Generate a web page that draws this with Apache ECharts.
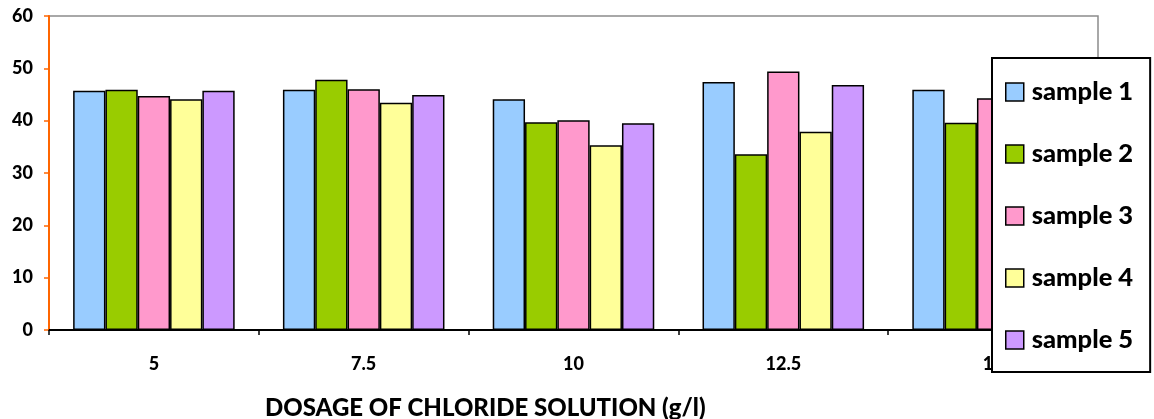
<!DOCTYPE html>
<html>
<head>
<meta charset="utf-8">
<script src="https://cdn.jsdelivr.net/npm/echarts@6/dist/echarts.min.js"></script>
<style>
html,body{margin:0;padding:0;background:#fff;}
#chart{width:1154px;height:419px;}
</style>
</head>
<body>
<div id="chart"></div>
<script>
var categories = ['5', '7.5', '10', '12.5', '15'];
var seriesNames = ['sample 1', 'sample 2', 'sample 3', 'sample 4', 'sample 5'];
var sample1 = [45.7, 45.9, 44.1, 47.4, 45.9];
var sample2 = [45.9, 47.8, 39.7, 33.6, 39.6];
var sample3 = [44.7, 46.0, 40.1, 49.4, 44.3];
var sample4 = [44.1, 43.4, 35.3, 37.9, 40.0];
var sample5 = [45.7, 44.9, 39.5, 46.8, 44.0];
var yTicks = [0, 10, 20, 30, 40, 50, 60];
var colors = ['#99CCFF', '#99CC00', '#FF99CC', '#FFFF99', '#CC99FF'];

var allData = [sample1, sample2, sample3, sample4, sample5];
var FONT = 'Lato';
var W = 900;

var chart = echarts.init(document.getElementById('chart'), null, {renderer: 'canvas'});
var series = allData.map(function (d, i) {
  return {
    name: seriesNames[i],
    type: 'bar',
    data: d,
    barGap: '0%',
    barCategoryGap: '23%',
    itemStyle: {color: colors[i], borderColor: '#000', borderWidth: 1.5},
    emphasis: {disabled: true}
  };
});

chart.setOption({
  animation: false,
  backgroundColor: '#fff',
  textStyle: {fontFamily: FONT},
  title: {
    text: 'DOSAGE OF CHLORIDE SOLUTION (g/l)',
    left: 265,
    top: 396,
    padding: 0,
    textStyle: {fontFamily: FONT, fontSize: 24, fontWeight: W, color: '#000'}
  },
  grid: {
    left: 49, right: 56, top: 16, bottom: 89,
    show: true, borderColor: '#8c8c8c', borderWidth: 1.5, backgroundColor: 'transparent'
  },
  legend: {
    orient: 'vertical',
    left: 992,
    top: 58,
    padding: [21, 17, 19, 13],
    itemGap: 36,
    itemWidth: 18,
    itemHeight: 18,
    icon: 'rect',
    backgroundColor: '#fff',
    borderColor: '#000',
    borderWidth: 2,
    z: 10,
    textStyle: {fontFamily: FONT, fontSize: 25.5, fontWeight: W, color: '#000', padding: [0, 0, 0, 3]},
    itemStyle: {borderColor: '#000', borderWidth: 1.5},
    data: seriesNames
  },
  xAxis: {
    type: 'category',
    data: categories,
    axisLine: {lineStyle: {color: '#000', width: 2}},
    axisTick: {show: true, length: 5, lineStyle: {color: '#000', width: 1.5}},
    axisLabel: {margin: 25, fontFamily: FONT, fontSize: 18, fontWeight: W, color: '#000'},
    splitLine: {show: false}
  },
  yAxis: {
    type: 'value',
    min: 0,
    max: 60,
    interval: 10,
    axisLine: {show: true, lineStyle: {color: '#FF6600', width: 2}},
    axisTick: {show: true, length: 5, lineStyle: {color: '#FF6600', width: 1.5}},
    axisLabel: {
      margin: 16, fontFamily: FONT, fontSize: 18, fontWeight: W, color: '#000',
      formatter: function (v) { return yTicks.indexOf(v) >= 0 ? String(v) : ''; }
    },
    splitLine: {show: false}
  },
  series: series
});
</script>
</body>
</html>
